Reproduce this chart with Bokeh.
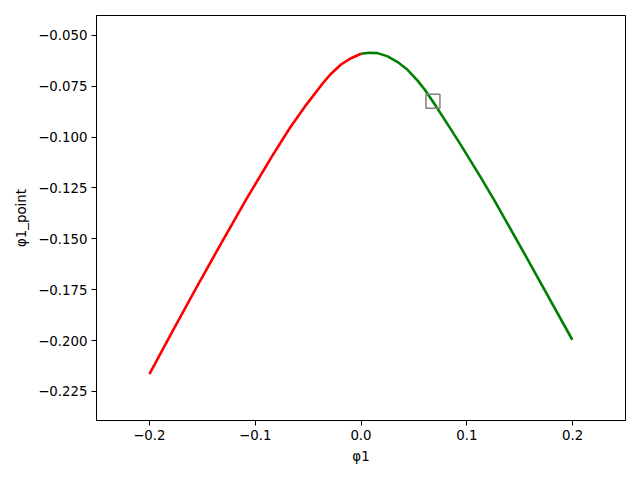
from bokeh.plotting import figure
from bokeh.models import Range1d, FixedTicker
from bokeh.embed import file_html
from bokeh.resources import INLINE

# Red branch (φ1 < 0)
red_x = [-0.2000, -0.1777, -0.1557, -0.1311, -0.1085, -0.0846, -0.0673, -0.0516, -0.0361, -0.0283, -0.0189, -0.0094, 0.0000]
red_y = [-0.2165, -0.1950, -0.1741, -0.1512, -0.1306, -0.1098, -0.0955, -0.0840, -0.0735, -0.0688, -0.0643, -0.0612, -0.0590]

# Green branch (φ1 > 0)
green_x = [0.0000, 0.0079, 0.0157, 0.0252, 0.0346, 0.0440, 0.0535, 0.0605, 0.0676, 0.0818, 0.0943, 0.1116, 0.1258, 0.1572, 0.1997]
green_y = [-0.0590, -0.0585, -0.0587, -0.0603, -0.0631, -0.0669, -0.0722, -0.0768, -0.0822, -0.0936, -0.1038, -0.1184, -0.1308, -0.1598, -0.1996]

# Highlighted point
mark_x = [0.068]
mark_y = [-0.0824]

x_ticks = [-0.2, -0.1, 0.0, 0.1, 0.2]
x_labels = ["\u22120.2", "\u22120.1", "0.0", "0.1", "0.2"]
y_ticks = [-0.225, -0.2, -0.175, -0.15, -0.125, -0.1, -0.075, -0.05]
y_labels = ["\u22120.225", "\u22120.200", "\u22120.175", "\u22120.150", "\u22120.125", "\u22120.100", "\u22120.075", "\u22120.050"]

p = figure(width=640, height=480, output_backend="svg", toolbar_location=None,
           x_range=Range1d(-0.25, 0.25), y_range=Range1d(-0.2393, -0.0402),
           min_border_left=96, min_border_right=15, min_border_top=15, min_border_bottom=60)

p.line(red_x, red_y, line_color="red", line_width=2.6, line_join="round")
p.line(green_x, green_y, line_color="green", line_width=2.6, line_join="round")
p.scatter(mark_x, mark_y, marker="square", size=14, fill_color=None,
          line_color="gray", line_width=1.5)

p.xgrid.visible = False
p.ygrid.visible = False
p.outline_line_color = "black"
p.outline_line_width = 1
p.background_fill_color = "white"
p.border_fill_color = "white"

p.xaxis.ticker = FixedTicker(ticks=x_ticks)
p.yaxis.ticker = FixedTicker(ticks=y_ticks)
p.xaxis.major_label_overrides = dict(zip(x_ticks, x_labels))
p.yaxis.major_label_overrides = dict(zip(y_ticks, y_labels))
p.xaxis.axis_label = "\u03c61"
p.yaxis.axis_label = "\u03c61_point"

for ax in (p.xaxis, p.yaxis):
    ax.axis_label_text_font_style = "normal"
    ax.axis_label_text_font = "DejaVu Sans"
    ax.axis_label_text_font_size = "13.33px"
    ax.major_label_text_font = "DejaVu Sans"
    ax.major_label_text_font_size = "13.33px"
    ax.major_label_text_color = "black"
    ax.axis_label_text_color = "black"
    ax.axis_line_color = "black"
    ax.major_tick_line_color = "black"
    ax.major_tick_out = 5
    ax.major_tick_in = 0
    ax.minor_tick_line_color = None
    ax.major_label_standoff = 4

p.xaxis.axis_label_standoff = 6
p.yaxis.axis_label_standoff = 6

open("out.html", "w").write(file_html(p, INLINE))
